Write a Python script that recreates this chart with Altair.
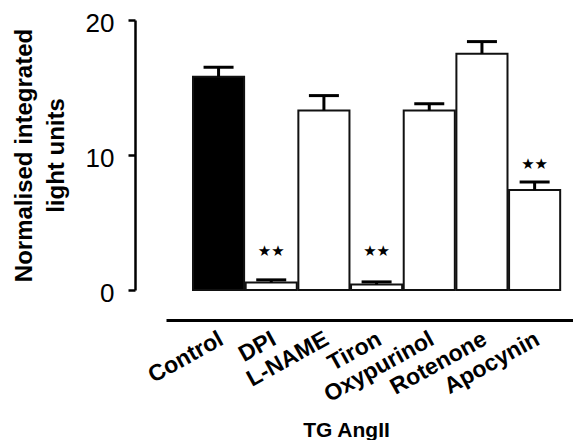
import altair as alt
import pandas as pd

categories = ["Control", "DPI", "L-NAME", "Tiron", "Oxypurinol", "Rotenone", "Apocynin"]
means = [15.8, 0.55, 13.3, 0.4, 13.3, 17.5, 7.4]
errors = [0.7, 0.2, 1.1, 0.2, 0.5, 0.9, 0.6]
groups = ["control", "treated", "treated", "treated", "treated", "treated", "treated"]
stars = ["", "★★", "", "★★", "", "", "★★"]
star_y = [None, 2.9, None, 2.9, None, None, 9.3]
y_ticks = [0, 10, 20]

df = pd.DataFrame({
    "cat": categories,
    "mean": means,
    "err": errors,
    "grp": groups,
    "star": stars,
    "star_y": star_y,
})
df["upper"] = df["mean"] + df["err"]

FONT = "Liberation Sans"

xscale = alt.Scale(paddingInner=0.03, paddingOuter=0.378, align=0.678)
yscale = alt.Scale(domain=[0, 20], nice=False)

x_axis = alt.Axis(
    labelAngle=-29, labelAlign="right", labelBaseline="middle",
    labelFont=FONT, labelFontSize=23, labelFontWeight="bold", labelColor="black",
    labelPadding=17, labelOffset=3, ticks=False, domainColor="black", domainWidth=3,
    offset=30, titleFont=FONT, titleFontSize=21,
    titleFontWeight="bold", titleColor="black", titleX=180, titleY=116,
    titleAnchor="middle", titleBaseline="alphabetic", grid=False,
)
y_axis = alt.Axis(
    values=y_ticks, grid=False, offset=31, tickSize=7, tickWidth=2.5,
    tickColor="black", domainColor="black", domainWidth=2.5,
    labelFont=FONT, labelFontSize=26, labelColor="black", labelPadding=14,
    labelOffset=3,
    titleFont=FONT, titleFontSize=24, titleFontWeight="bold", titleColor="black",
    titlePadding=17, titleLineHeight=32,
)
Y_TITLE = ["Normalised integrated", "light units"]
X_TITLE = "TG AngII"


def xenc():
    return alt.X("cat:N", sort=categories, scale=xscale, axis=x_axis, title=X_TITLE)


def yenc(field):
    return alt.Y(field, scale=yscale, axis=y_axis, title=Y_TITLE)


base = alt.Chart(df)

bars = base.mark_bar(stroke="#111", strokeWidth=2, opacity=1).encode(
    x=xenc(),
    y=yenc("mean:Q"),
    color=alt.Color("grp:N", scale=alt.Scale(domain=["control", "treated"], range=["black", "white"]), legend=None),
)

rules = base.mark_rule(strokeWidth=3, color="black", opacity=1).encode(
    x=xenc(),
    y=yenc("mean:Q"),
    y2="upper:Q",
)

caps = base.mark_tick(size=30, thickness=3, color="black", opacity=1).encode(
    x=xenc(),
    y=yenc("upper:Q"),
)

text = base.transform_filter("datum.star_y != null").mark_text(
    font="DejaVu Sans", fontSize=15, color="black"
).encode(
    x=xenc(),
    y=yenc("star_y:Q"),
    text="star:N",
)

chart = alt.layer(bars, rules, caps, text).properties(
    width=407, height=270,
    autosize=alt.AutoSizeParams(type="none"),
    padding={"left": 158, "top": 12, "right": 0, "bottom": 150},
    background="white",
).configure_view(stroke=None)

chart.save("out.html", embed_options={"renderer": "svg", "actions": False})
